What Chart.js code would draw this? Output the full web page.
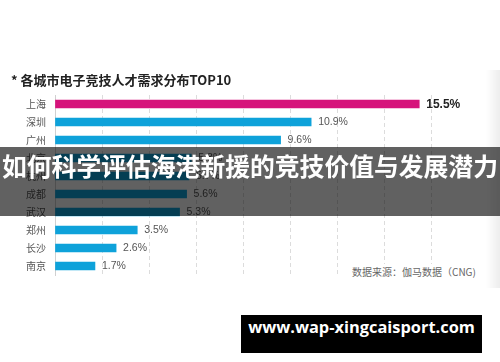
<!DOCTYPE html>
<html>
<head>
<meta charset="utf-8">
<script src="https://cdn.jsdelivr.net/npm/chart.js@4"></script>
<style>
  html, body { margin: 0; padding: 0; background: #fff; }
  #wrap { position: relative; width: 500px; height: 362px; overflow: hidden; }
  #cityChart { position: absolute; left: 0; top: 0; }
  .edge { position: absolute; left: 486px; top: 70px; width: 14px; height: 218px;
    background: linear-gradient(to right, rgba(0,0,0,0), rgba(0,0,0,0.07)); }
  .source { position: absolute; left: 350px; top: 264px; padding: 0 2px; background: #fff;
    font: 10px "Noto Sans CJK SC", "Liberation Sans", sans-serif; color: #666; line-height: 15px; }
  .banner { position: absolute; left: 0; top: 147px; width: 500px; height: 69px;
    background: rgba(0,0,0,0.62); color: #fff; text-align: center; line-height: 69px;
    font: bold 24.8px "Noto Sans CJK SC", sans-serif; white-space: nowrap; }
  .mark { position: absolute; left: 241px; top: 315px; width: 241px; height: 38px;
    background: #000; color: #fff; text-align: center; line-height: 38px;
    font: bold 16.4px "Open Sans", "DejaVu Sans", sans-serif; }
</style>
</head>
<body>
<div id="wrap">
  <canvas id="cityChart" width="500" height="362"></canvas>
  <div class="edge"></div>
  <div class="source">数据来源：伽马数据（CNG)</div>
  <div class="banner">如何科学评估海港新援的竞技价值与发展潜力</div>
  <div class="mark">www.wap-xingcaisport.com</div>
</div>
<script>
// data (percent of e-sports talent demand)
const cities = ["上海", "深圳", "广州", "北京", "杭州", "成都", "武汉", "郑州", "长沙", "南京"];
const shares = [15.5, 10.9, 9.6, 5.8, 5.7, 5.6, 5.3, 3.5, 2.6, 1.7];
const chartTitle = "* 各城市电子竞技人才需求分布TOP10";

const barColors = cities.map((c, i) => i === 0 ? "#d6137b" : "#0ea2da");

// value labels at the end of each bar
const valueLabels = {
    id: "valueLabels",
    afterDatasetsDraw(chart){
        const c = chart.ctx;
        const meta = chart.getDatasetMeta(0);
        c.save();
        c.textBaseline = "middle";
        c.textAlign = "left";
        meta.data.forEach((bar, i) => {
            if(i === 0){
                c.font = "bold 12px 'Liberation Sans', Arial, sans-serif";
                c.fillStyle = "#222";
            } else {
                c.font = "10.5px 'Liberation Sans', Arial, sans-serif";
                c.fillStyle = "#555";
            }
            c.fillText(shares[i].toFixed(1) + "%", bar.x + 7, bar.y + 0.5);
        });
        c.restore();
    }
};

const ctx = document.getElementById("cityChart");

new Chart(ctx, {
    type: "bar",
    data: {
        labels: cities,
        datasets: [
            {
                data: shares,
                backgroundColor: barColors,
                barThickness: 8
            }
        ]
    },
    options: {
        indexAxis: "y",
        responsive: false,
        animation: false,
        layout: {
            padding: { left: 11, right: 69, top: 0, bottom: 87 }
        },
        plugins: {
            legend: { display: false },
            tooltip: { enabled: false },
            title: {
                display: true,
                text: chartTitle,
                align: "start",
                color: "#222",
                font: { size: 13, weight: "bold", family: "'Noto Sans CJK SC', 'Liberation Sans', sans-serif" },
                padding: { top: 72, bottom: 7.4 }
            }
        },
        scales: {
            x: {
                min: 0,
                max: 16,
                ticks: { display: false, stepSize: 2 },
                grid: { color: "#dcdcdc", drawTicks: false },
                border: { display: false, dash: [4, 3] }
            },
            y: {
                afterFit(scale){ scale.width = 44; },
                ticks: {
                    color: "#555",
                    padding: 9,
                    font: { size: 10, family: "'Noto Sans CJK SC', sans-serif" }
                },
                grid: { display: false, drawTicks: false },
                border: { color: "#d0d0d0" }
            }
        }
    },
    plugins: [valueLabels]
});
</script>
</body>
</html>
